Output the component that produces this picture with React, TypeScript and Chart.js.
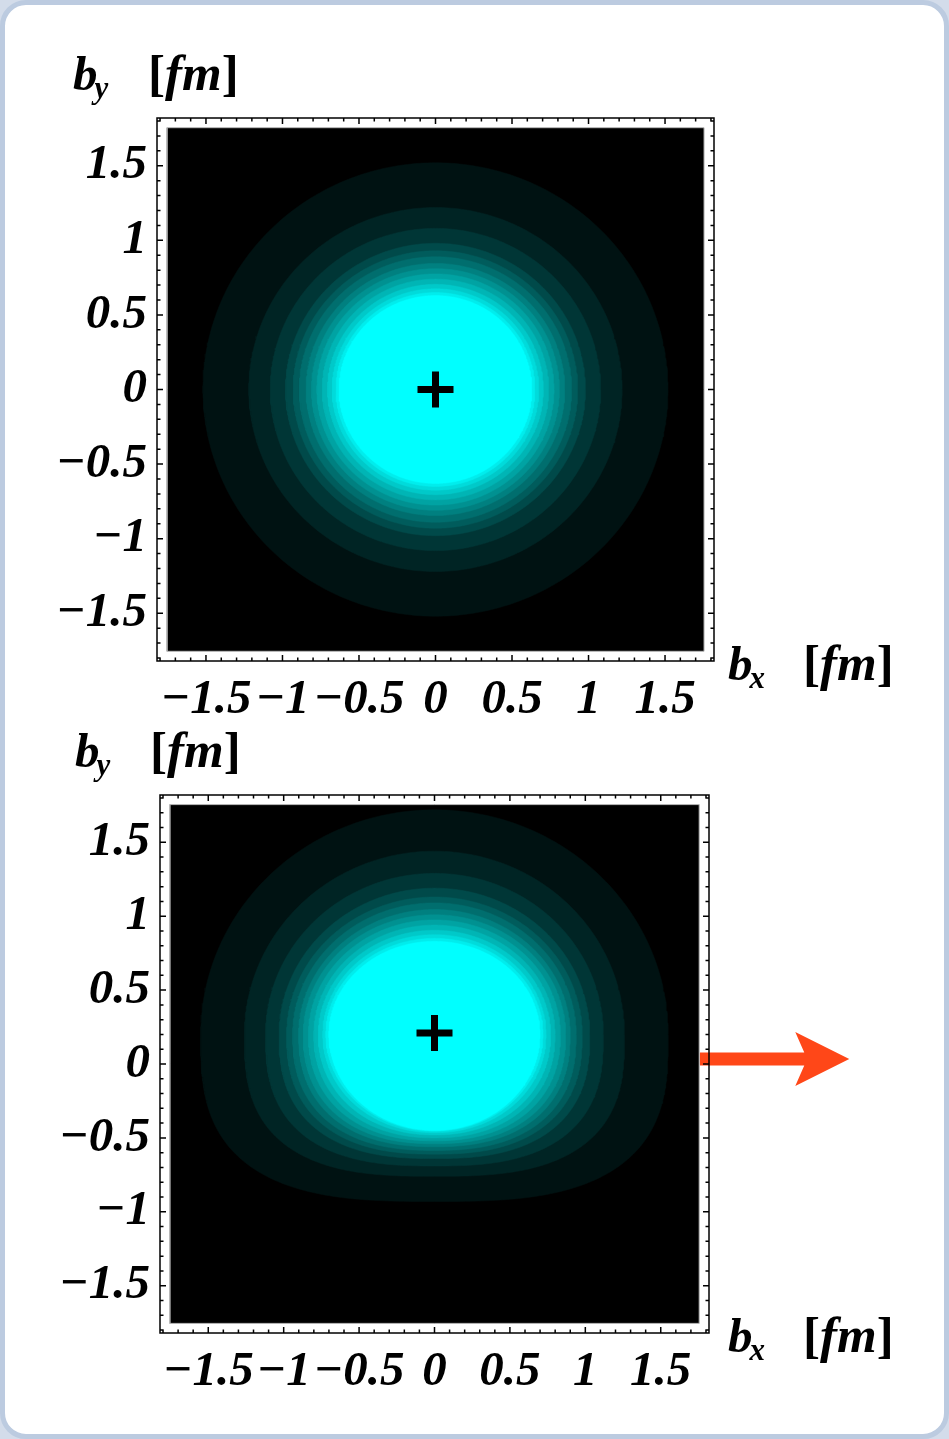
import React, { useEffect, useRef } from "react";
import { Chart, registerables } from "chart.js";

Chart.register(...registerables);

// Axis ticks (fm)
const TICK_VALUES = [-1.5, -1, -0.5, 0, 0.5, 1, 1.5];
const TICK_LABELS = ["\u22121.5", "\u22121", "\u22120.5", "0", "0.5", "1", "1.5"];
const MINOR_TICKS_PER_UNIT = 10;

// Frame extent and extent of the density image (fm)
const AXIS_RANGE = 1.82;
const IMAGE_RANGE = 1.755;

// Density levels drawn as contour bands (fraction of the peak), outermost first
const CONTOUR_LEVELS = [0.07, 0.14, 0.21, 0.29, 0.36, 0.43, 0.5, 0.57, 0.64, 0.71, 0.79, 0.86, 0.93, 1.0];

// Unpolarized nucleon: circular contours, radius (fm) of each level
const UNPOL_CENTER = { x: 0, y: 0 };
const UNPOL_RADII = [1.52, 1.22, 1.08, 0.98, 0.93, 0.89, 0.845, 0.81, 0.775, 0.74, 0.705, 0.675, 0.65, 0.63];

// Transversely polarized nucleon: shifted upward, squeezed below the centre
const POL_CENTER = { x: 0, y: 0.2 };
const POL_RADII_SIDE = [1.55, 1.26, 1.12, 1.03, 0.98, 0.94, 0.9, 0.87, 0.835, 0.8, 0.77, 0.74, 0.72, 0.7];
const POL_RADII_UP = [1.52, 1.24, 1.09, 0.99, 0.93, 0.89, 0.845, 0.81, 0.775, 0.74, 0.705, 0.675, 0.65, 0.63];
const POL_RADII_DOWN = [1.13, 0.96, 0.89, 0.84, 0.81, 0.785, 0.76, 0.74, 0.72, 0.7, 0.68, 0.665, 0.655, 0.65];

// Centre-of-momentum markers
const UNPOL_MARK = { x: 0, y: 0 };
const POL_MARK = { x: 0, y: 0.21 };

// Polarization direction arrow (fm)
const ARROW_X_FROM = 1.76;
const ARROW_X_TO = 2.75;
const ARROW_Y = 0.034;

const SERIF = '"Liberation Serif", "Times New Roman", serif';

type Pt = { x: number; y: number };

type PanelSpec = {
  top: number;
  height: number;
  area: { left: number; right: number; top: number; bottom: number };
  center: Pt;
  radiiSide: number[];
  radiiUp: number[];
  radiiDown: number[];
  mark: Pt;
  arrow: boolean;
  xTitleGap: number;
  yTitleDx: number;
};

const CANVAS_W = 949;
const X_AXIS_H = 70;

const PANELS: PanelSpec[] = [
  {
    top: 0,
    height: 745,
    area: { left: 157, right: 714, top: 118, bottom: 661 },
    center: UNPOL_CENTER,
    radiiSide: UNPOL_RADII,
    radiiUp: UNPOL_RADII,
    radiiDown: UNPOL_RADII,
    mark: UNPOL_MARK,
    arrow: false,
    xTitleGap: 14,
    yTitleDx: -84,
  },
  {
    top: 720,
    height: 719,
    area: { left: 160, right: 709, top: 75, bottom: 613 },
    center: POL_CENTER,
    radiiSide: POL_RADII_SIDE,
    radiiUp: POL_RADII_UP,
    radiiDown: POL_RADII_DOWN,
    mark: POL_MARK,
    arrow: true,
    xTitleGap: 19,
    yTitleDx: -85,
  },
];

// Closed contour: elliptic upper half, super-elliptic (flattened) lower half
function contourPath(c: Pt, rSide: number, rUp: number, rDown: number, steps = 360): Pt[] {
  const n = Math.max(2, 2 + 3.6 * (1 - rDown / rUp));
  const e = 2 / n;
  const pts: Pt[] = [];
  for (let k = 0; k <= steps; k++) {
    const t = (2 * Math.PI * k) / steps;
    const cs = Math.cos(t);
    const sn = Math.sin(t);
    if (sn >= 0) {
      pts.push({ x: c.x + rSide * cs, y: c.y + rUp * sn });
    } else {
      pts.push({
        x: c.x + rSide * Math.sign(cs) * Math.pow(Math.abs(cs), e),
        y: c.y - rDown * Math.pow(Math.abs(sn), e),
      });
    }
  }
  return pts;
}

function levelColor(level: number): string {
  const v = Math.round(255 * level);
  return `rgb(0, ${v}, ${v})`;
}

function drawAxisTitle(ctx: CanvasRenderingContext2D, x: number, y: number, main: string, sub: string) {
  ctx.fillStyle = "#000";
  ctx.textAlign = "left";
  ctx.textBaseline = "alphabetic";
  ctx.font = `italic bold 49px ${SERIF}`;
  ctx.fillText(main, x, y);
  const w = ctx.measureText(main).width;
  ctx.font = `italic bold 31px ${SERIF}`;
  ctx.fillText(sub, x + w - 3, y + 8);
  let cx = x + 75;
  ctx.font = `bold 51px ${SERIF}`;
  ctx.fillText("[", cx, y);
  cx += ctx.measureText("[").width;
  ctx.font = `italic bold 51px ${SERIF}`;
  ctx.fillText("fm", cx, y);
  cx += ctx.measureText("fm").width;
  ctx.font = `bold 51px ${SERIF}`;
  ctx.fillText("]", cx, y);
}

const framePlugin = {
  id: "frameDecor",
  afterDraw(chart: any, _args: any, opts: any) {
    const { ctx, chartArea: a, scales } = chart;
    const xs = scales.x;
    const ys = scales.y;
    ctx.save();

    if (opts.arrow) {
      const x0 = xs.getPixelForValue(ARROW_X_FROM);
      const x1 = xs.getPixelForValue(ARROW_X_TO);
      const y = ys.getPixelForValue(ARROW_Y);
      const half = 6.5;
      const headL = 54;
      const headW = 27;
      const notch = 9;
      ctx.fillStyle = "#ff4718";
      ctx.beginPath();
      ctx.moveTo(x0, y - half);
      ctx.lineTo(x1 - headL + notch, y - half);
      ctx.lineTo(x1 - headL, y - headW);
      ctx.lineTo(x1, y);
      ctx.lineTo(x1 - headL, y + headW);
      ctx.lineTo(x1 - headL + notch, y + half);
      ctx.lineTo(x0, y + half);
      ctx.closePath();
      ctx.fill();
    }

    // frame
    ctx.strokeStyle = "#000";
    ctx.lineWidth = 1.5;
    ctx.strokeRect(a.left, a.top, a.right - a.left, a.bottom - a.top);

    // inward ticks on all four sides
    const nMax = Math.floor(AXIS_RANGE * MINOR_TICKS_PER_UNIT);
    ctx.beginPath();
    for (let i = -nMax; i <= nMax; i++) {
      const v = i / MINOR_TICKS_PER_UNIT;
      const len = i % 5 === 0 ? 6 : 3.5;
      const px = xs.getPixelForValue(v);
      const py = ys.getPixelForValue(v);
      ctx.moveTo(px, a.bottom);
      ctx.lineTo(px, a.bottom - len);
      ctx.moveTo(px, a.top);
      ctx.lineTo(px, a.top + len);
      ctx.moveTo(a.left, py);
      ctx.lineTo(a.left + len, py);
      ctx.moveTo(a.right, py);
      ctx.lineTo(a.right - len, py);
    }
    ctx.stroke();

    drawAxisTitle(ctx, a.left + opts.yTitleDx, a.top - 28, "b", "y");
    drawAxisTitle(ctx, a.right + opts.xTitleGap, a.bottom + 19, "b", "x");
    ctx.restore();
  },
};

function tickFont() {
  return { family: SERIF, size: 49, style: "italic" as const, weight: "bold" as const };
}

function Panel({ spec }: { spec: PanelSpec }) {
  const ref = useRef<HTMLCanvasElement | null>(null);

  useEffect(() => {
    const canvas = ref.current;
    if (!canvas) return;

    const imageRect: Pt[] = [
      { x: -IMAGE_RANGE, y: -IMAGE_RANGE },
      { x: IMAGE_RANGE, y: -IMAGE_RANGE },
      { x: IMAGE_RANGE, y: IMAGE_RANGE },
      { x: -IMAGE_RANGE, y: IMAGE_RANGE },
      { x: -IMAGE_RANGE, y: -IMAGE_RANGE },
    ];

    const datasets: any[] = [
      {
        data: imageRect,
        showLine: true,
        fill: "shape",
        backgroundColor: "#000",
        borderColor: "#b8b8b8",
        borderWidth: 1,
        pointRadius: 0,
        order: 100,
      },
    ];

    CONTOUR_LEVELS.forEach((level, i) => {
      const col = levelColor(level);
      datasets.push({
        data: contourPath(spec.center, spec.radiiSide[i], spec.radiiUp[i], spec.radiiDown[i]),
        showLine: true,
        fill: "shape",
        backgroundColor: col,
        borderColor: col,
        borderWidth: 0.5,
        pointRadius: 0,
        tension: 0,
        order: 50 - i,
      });
    });

    datasets.push({
      data: [spec.mark],
      showLine: false,
      pointStyle: "cross",
      pointRadius: 18,
      pointBorderWidth: 7,
      pointBorderColor: "#000",
      pointBackgroundColor: "#000",
      order: 0,
    });

    const labelFor = (v: number) => {
      const idx = TICK_VALUES.findIndex((t) => Math.abs(t - v) < 1e-9);
      return idx >= 0 ? TICK_LABELS[idx] : "";
    };
    const setTicks = (scale: any) => {
      scale.ticks = TICK_VALUES.map((value) => ({ value }));
    };

    const a = spec.area;
    const chart = new Chart(canvas, {
      type: "scatter",
      data: { datasets },
      plugins: [framePlugin],
      options: {
        responsive: false,
        animation: false,
        events: [],
        layout: {
          padding: {
            left: 0,
            right: CANVAS_W - a.right,
            top: a.top,
            bottom: spec.height - a.bottom - X_AXIS_H,
          },
        },
        plugins: {
          legend: { display: false },
          tooltip: { enabled: false },
          frameDecor: { arrow: spec.arrow, xTitleGap: spec.xTitleGap, yTitleDx: spec.yTitleDx },
        } as any,
        scales: {
          x: {
            type: "linear",
            position: "bottom",
            min: -AXIS_RANGE,
            max: AXIS_RANGE,
            grid: { display: false, drawTicks: false },
            border: { display: false },
            afterBuildTicks: setTicks,
            afterFit: (s: any) => {
              s.height = X_AXIS_H;
            },
            ticks: {
              autoSkip: false,
              maxRotation: 0,
              minRotation: 0,
              padding: 10,
              color: "#000",
              font: tickFont(),
              callback: (v: any) => labelFor(Number(v)),
            },
          },
          y: {
            type: "linear",
            position: "left",
            min: -AXIS_RANGE,
            max: AXIS_RANGE,
            grid: { display: false, drawTicks: false },
            border: { display: false },
            afterBuildTicks: setTicks,
            afterFit: (s: any) => {
              s.width = a.left;
            },
            ticks: {
              autoSkip: false,
              padding: 10,
              color: "#000",
              font: tickFont(),
              callback: (v: any) => labelFor(Number(v)),
            },
          },
        },
      },
    });

    return () => chart.destroy();
  }, [spec]);

  return (
    <canvas
      ref={ref}
      width={CANVAS_W}
      height={spec.height}
      style={{ position: "absolute", left: 0, top: spec.top, width: CANVAS_W, height: spec.height, display: "block" }}
    />
  );
}

export default function App() {
  return (
    <div
      style={{
        position: "absolute",
        left: 0,
        top: 0,
        width: 949,
        height: 1439,
        background: "#d3dcea",
        overflow: "hidden",
      }}
    >
      <div
        style={{
          position: "absolute",
          left: 0,
          top: 0,
          width: 949,
          height: 1439,
          boxSizing: "border-box",
          border: "5px solid #bccbe0",
          borderRadius: 26,
          background: "#ffffff",
        }}
      />
      {PANELS.map((p, i) => (
        <Panel key={i} spec={p} />
      ))}
    </div>
  );
}
